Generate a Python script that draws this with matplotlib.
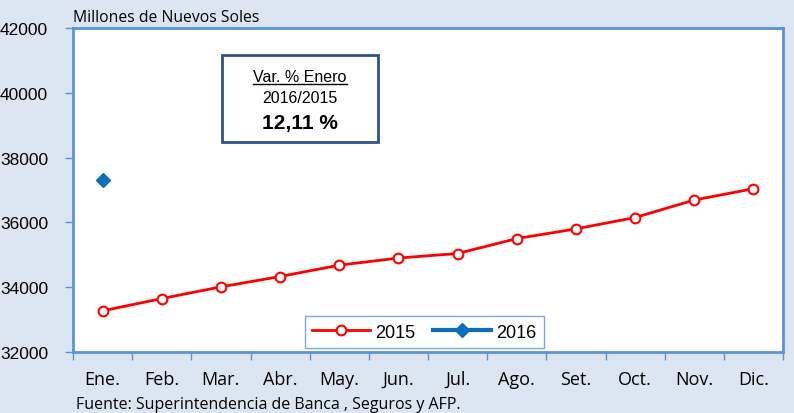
import numpy as np
import matplotlib.pyplot as plt
from matplotlib.lines import Line2D

meses = ['Ene.', 'Feb.', 'Mar.', 'Abr.', 'May.', 'Jun.', 'Jul.', 'Ago.', 'Set.', 'Oct.', 'Nov.', 'Dic.']
serie_2015 = [33270, 33650, 34010, 34330, 34680, 34900, 35040, 35500, 35800, 36150, 36690, 37040]
serie_2016 = [37300]
y_ticks = [32000, 34000, 36000, 38000, 40000, 42000]

BG = '#dce6f2'
BORDE = '#5b93d9'
ROJO = '#ff0000'
AZUL = '#0a6ebd'

fig = plt.figure(figsize=(7.94, 4.14), dpi=100, facecolor=BG)
ax = fig.add_axes([73 / 794, 61 / 414, 710 / 794, 324 / 414])
ax.set_facecolor('white')

x = np.arange(len(meses))
ax.plot(x, serie_2015, color=ROJO, lw=2, marker='o', ms=7,
        mfc='white', mec=ROJO, mew=1.5, label='2015', zorder=3)
ax.plot(x[:len(serie_2016)], serie_2016, color=AZUL, lw=3, marker='D', ms=7,
        mfc=AZUL, mec=AZUL, label='2016', zorder=3)

ax.set_xlim(-0.5, len(meses) - 0.5)
ax.set_ylim(32000, 42000)
ax.set_yticks(y_ticks)
ax.set_yticklabels([str(v) for v in y_ticks], fontfamily='Liberation Sans', fontsize=12.5)
ax.set_xticks(np.arange(-0.5, len(meses)))
ax.set_xticklabels([])
ax.set_xticks(x, minor=True)
ax.set_xticklabels(meses, minor=True, fontfamily='Open Sans', fontsize=13)
ax.tick_params(axis='x', which='major', direction='out', length=6, color=BORDE, width=1)
ax.tick_params(axis='x', which='minor', length=0, pad=13)
ax.tick_params(axis='y', direction='out', length=6, color=BORDE, width=1, pad=12)

for s in ax.spines.values():
    s.set_color(BORDE)
    s.set_linewidth(2)

leg = ax.legend(loc='lower center', bbox_to_anchor=(0.495, -0.015), ncol=2, frameon=True,
                fancybox=False, edgecolor=BORDE, handlelength=3.2, handletextpad=0.3,
                columnspacing=1.0, prop={'family': 'Liberation Sans', 'size': 13},
                borderpad=0.4)
leg.get_frame().set_linewidth(1)

fig.text(73 / 794, 1 - 18 / 414, 'Millones de Nuevos Soles', fontfamily='Open Sans',
         fontsize=11.3, va='center', ha='left')
fig.text(76 / 794, 1 - 405 / 414, 'Fuente: Superintendencia de Banca , Seguros y AFP.',
         fontfamily='Open Sans', fontsize=11.5, va='center', ha='left')

# recuadro de variacion
bx0, bx1, by0, by1 = 222, 378, 414 - 143, 414 - 56
rect = plt.Rectangle((bx0 / 794, by0 / 414), (bx1 - bx0) / 794, (by1 - by0) / 414,
                     transform=fig.transFigure, facecolor='white', edgecolor='#2f528f', lw=2)
fig.patches.append(rect)
cx = (bx0 + bx1) / 2 / 794
t1 = fig.text(cx, 1 - 78 / 414, 'Var. % Enero', ha='center', va='center',
              fontfamily='Liberation Sans', fontsize=11.5)
fig.text(cx, 1 - 99 / 414, '2016/2015', ha='center', va='center',
         fontfamily='Liberation Sans', fontsize=11.5)
fig.text(cx, 1 - 124 / 414, '12,11 %', ha='center', va='center',
         fontfamily='Liberation Sans', fontsize=15, fontweight='bold')

fig.canvas.draw()
bb = t1.get_window_extent().transformed(fig.transFigure.inverted())
fig.add_artist(Line2D([bb.x0, bb.x1], [bb.y0 + 0.002, bb.y0 + 0.002],
                      transform=fig.transFigure, color='black', lw=1))

fig.savefig('out.png', dpi=100, facecolor=BG)
